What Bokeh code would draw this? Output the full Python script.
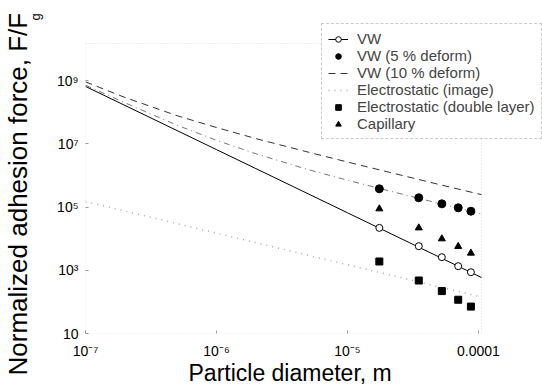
import math
from bokeh.plotting import figure
from bokeh.models import (Range1d, FixedTicker, CustomJSTickFormatter, Legend, LegendItem,
                          Title, BoxAnnotation, LogAxis)
from bokeh.embed import file_html
from bokeh.resources import INLINE

# ---- data ----
d_pts = [1.75e-5, 3.5e-5, 5.25e-5, 7.0e-5, 8.75e-5]
vw_pts = [2.2e4, 5.8e3, 2.6e3, 1.35e3, 8.7e2]
vw5_pts = [3.8e5, 1.97e5, 1.27e5, 9.5e4, 7.4e4]
dl_pts = [1.9e3, 4.75e2, 2.2e2, 1.17e2, 71]
cap_pts = [8.8e4, 2.2e4, 9.9e3, 5.7e3, 3.5e3]

d_curve = [1e-7, 2e-7, 5e-7, 1e-6, 2e-6, 5e-6, 1e-5, 2e-5, 5e-5, 1.054e-4]
vw_curve = [6.6e8, 1.65e8, 2.64e7, 6.6e6, 1.65e6, 2.64e5, 6.6e4, 1.65e4, 2.64e3, 5.9e2]
vw5_curve = [7.2e8, 2.0e8, 3.9e7, 1.3e7, 4.85e6, 1.54e6, 7.1e5, 3.4e5, 1.31e5, 6.1e4]
vw10_curve = [9.2e8, 2.95e8, 7.8e7, 3.3e7, 1.47e7, 5.5e6, 2.67e6, 1.32e6, 5.2e5, 2.48e5]
image_curve = [1.5e5, 7.5e4, 3.0e4, 1.5e4, 7.5e3, 3.0e3, 1.5e3, 7.5e2, 3.0e2, 1.42e2]

# axis box of the original chart (its plotted extent)
axis_x_limits = [1e-7, 1.054e-4]
axis_y_limits = [10, 1.5e10]

x_ticks = [1e-7, 1e-6, 1e-5, 1e-4]
x_tick_labels = ["10\u207b\u2077", "10\u207b\u2076", "10\u207b\u2075", "0.0001"]
y_ticks = [1e1, 1e3, 1e5, 1e7, 1e9]
y_tick_labels = ["10", "10\u00b3", "10\u2075", "10\u2077", "10\u2079"]

series_labels = ["VW", "VW (5 % deform)", "VW (10 % deform)", "Electrostatic (image)",
                 "Electrostatic (double layer)", "Capillary"]
x_title = "Particle diameter, m"
y_title = "Normalized adhesion force, F/F"
y_title_sub = "g"

FONT = "Liberation Sans"

# plotting region extended right/up so the legend can overlap the axis box
p = figure(width=542, height=385, x_axis_type="log", y_axis_type="log", y_axis_location=None,
           x_range=Range1d(1e-7, 3.08e-4), y_range=Range1d(10, 3.45e11),
           output_backend="svg", toolbar_location=None,
           min_border_left=85, min_border_right=0, min_border_top=0, min_border_bottom=52)
p.xgrid.visible = False
p.ygrid.visible = False
p.background_fill_color = "white"
p.border_fill_color = "white"
p.outline_line_color = None

yaxis = LogAxis()
p.add_layout(yaxis, "left")

fmt_code = """
let best = 0; let bd = Infinity;
for (let i = 0; i < vals.length; i++) {
  const dd = Math.abs(Math.log10(tick) - Math.log10(vals[i]));
  if (dd < bd) { bd = dd; best = i; }
}
return labs[best];
"""
xaxis = p.xaxis[0]
xaxis.ticker = FixedTicker(ticks=x_ticks, minor_ticks=[])
yaxis.ticker = FixedTicker(ticks=y_ticks, minor_ticks=[])
xaxis.formatter = CustomJSTickFormatter(args=dict(vals=x_ticks, labs=x_tick_labels), code=fmt_code)
yaxis.formatter = CustomJSTickFormatter(args=dict(vals=y_ticks, labs=y_tick_labels), code=fmt_code)
for ax in (xaxis, yaxis):
    ax.axis_line_color = None
    ax.major_tick_line_color = "#999999"
    ax.major_tick_in = 3
    ax.major_tick_out = 0
    ax.minor_tick_line_color = None
    ax.major_label_text_font = FONT
    ax.major_label_text_font_size = "14px"
    ax.major_label_text_color = "black"
xaxis.major_label_standoff = 9
yaxis.major_label_standoff = 7

t_x = Title(text=x_title, align="left", vertical_align="top", standoff=-4, offset=103,
            text_font=FONT, text_font_size="23px", text_font_style="normal", text_color="black")
p.add_layout(t_x, "below")

# left side: spacer, subscript, main y title (stacked outward from the axis)
t_gap = Title(text=" ", standoff=5, text_font=FONT, text_font_size="10px",
              text_font_style="normal")
t_sub = Title(text=y_title_sub, align="left", vertical_align="bottom", standoff=-14, offset=313,
              text_font=FONT, text_font_size="13px", text_font_style="normal", text_color="black")
t_main = Title(text=y_title, align="left", vertical_align="bottom", standoff=0, offset=-42,
               text_font=FONT, text_font_size="26px", text_font_style="normal", text_color="black")
p.add_layout(t_gap, "left")
p.add_layout(t_sub, "left")
p.add_layout(t_main, "left")

p.add_layout(BoxAnnotation(left=axis_x_limits[0], right=axis_x_limits[1],
                           bottom=axis_y_limits[0], top=axis_y_limits[1],
                           fill_alpha=0, line_color="#8a8a8a", line_dash="1 2", line_width=1))

r_vw_line = p.line(d_curve, vw_curve, line_color="black", line_width=1)
r_vw5_line = p.line(d_curve, vw5_curve, line_color="#777777", line_width=1, line_dash="6 4 1 4")
r_vw10_line = p.line(d_curve, vw10_curve, line_color="#333333", line_width=1, line_dash="7 5")
r_img_line = p.line(d_curve, image_curve, line_color="#aaaaaa", line_width=1.5, line_dash="1 5")

r_vw = p.scatter(d_pts, vw_pts, marker="circle", size=7, fill_color="white", line_color="black", line_width=1)
r_vw5 = p.scatter(d_pts, vw5_pts, marker="circle", size=8, fill_color="black", line_color="black")
r_dl = p.scatter(d_pts, dl_pts, marker="square", size=7, fill_color="black", line_color="black")
r_cap = p.scatter(d_pts, cap_pts, marker="triangle", size=7, fill_color="black", line_color="black")

items = [
    LegendItem(label=series_labels[0], renderers=[r_vw_line, r_vw]),
    LegendItem(label=series_labels[1], renderers=[r_vw5]),
    LegendItem(label=series_labels[2], renderers=[r_vw10_line]),
    LegendItem(label=series_labels[3], renderers=[r_img_line]),
    LegendItem(label=series_labels[4], renderers=[r_dl]),
    LegendItem(label=series_labels[5], renderers=[r_cap]),
]
legend = Legend(items=items, location=(236, 194), margin=0, padding=6, spacing=0,
                glyph_width=20, glyph_height=14, label_height=14, label_standoff=9,
                label_text_font=FONT, label_text_font_size="15px",
                border_line_color="#999999", border_line_dash="1 2",
                background_fill_color="white", background_fill_alpha=1.0)
p.add_layout(legend, "center")

open("out.html", "w").write(file_html(p, INLINE))
